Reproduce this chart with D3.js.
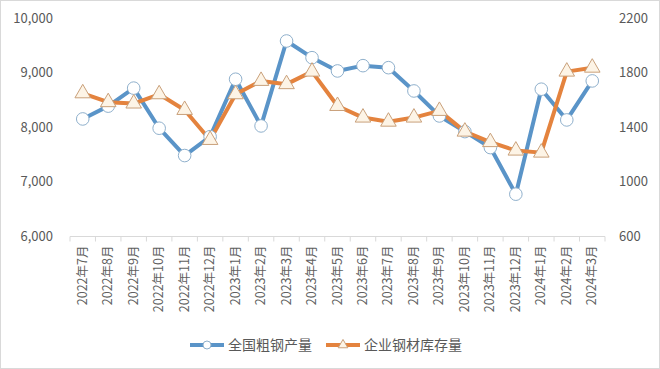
<!DOCTYPE html>
<html><head><meta charset="utf-8">
<script src="https://cdn.jsdelivr.net/npm/d3@7"></script>
<style>body{margin:0;background:#fff}svg{display:block}</style>
</head><body>
<svg id="c" width="660" height="369"></svg>
<script>
const categories = ["2022年7月","2022年8月","2022年9月","2022年10月","2022年11月","2022年12月","2023年1月","2023年2月","2023年3月","2023年4月","2023年5月","2023年6月","2023年7月","2023年8月","2023年9月","2023年10月","2023年11月","2023年12月","2024年1月","2024年2月","2024年3月"];
const steelOutput = [8155,8390,8720,7985,7484,7830,8883,8027,9584,9278,9035,9132,9095,8668,8210,7923,7630,6776,8700,8137,8852];
const inventory = [1650,1585,1575,1643,1528,1308,1643,1741,1717,1809,1557,1472,1442,1472,1521,1369,1292,1230,1215,1809,1838];
const leftTicks = [6000,7000,8000,9000,10000];
const rightTicks = [600,1000,1400,1800,2200];
const seriesNames = ["全国粗钢产量","企业钢材库存量"];

const svg = d3.select("#c");
const font = "'Noto Sans CJK SC','Noto Sans',sans-serif";
svg.append("rect").attr("x",0.5).attr("y",0.5).attr("width",659).attr("height",368)
  .attr("fill","#fff").attr("stroke","#d9d9d9");

const x = d3.scaleBand().domain(categories).range([70,605]);
const yL = d3.scaleLinear().domain([6000,10000]).range([236.5,18.3]);
const yR = d3.scaleLinear().domain([600,2200]).range([236.5,18.3]);
const cx = d => x(d) + x.bandwidth()/2;

// x axis
const gx = svg.append("g").attr("transform","translate(0,236.5)");
gx.append("line").attr("x1",70).attr("x2",605).attr("stroke","#d9d9d9").attr("stroke-width",1);
const bounds = categories.map(c=>x(c)).concat([605]);
gx.selectAll("line.t").data(bounds).enter().append("line").attr("class","t")
  .attr("x1",d=>d).attr("x2",d=>d).attr("y1",0).attr("y2",5).attr("stroke","#d9d9d9");
gx.selectAll("text").data(categories).enter().append("text")
  .attr("transform",d=>`translate(${cx(d)+4},9) rotate(-90)`)
  .attr("text-anchor","end").attr("font-family",font).attr("font-size",12.5)
  .attr("fill","#606060").text(d=>d);

// left axis labels
svg.append("g").selectAll("text").data(leftTicks).enter().append("text")
  .attr("x",53).attr("y",d=>yL(d)+4.5).attr("text-anchor","end")
  .attr("font-family",font).attr("font-size",13).attr("fill","#595959")
  .text(d=>d3.format(",")(d));
// right axis labels
svg.append("g").selectAll("text").data(rightTicks).enter().append("text")
  .attr("x",619).attr("y",d=>yR(d)+4.5).attr("text-anchor","start")
  .attr("font-family",font).attr("font-size",13).attr("fill","#595959")
  .text(d=>d);

const blue = "#5A94C8", orange = "#E4833E";
const lineB = d3.line().x((d,i)=>cx(categories[i])).y(d=>yL(d));
const lineO = d3.line().x((d,i)=>cx(categories[i])).y(d=>yR(d));

svg.append("path").datum(steelOutput).attr("d",lineB).attr("fill","none")
  .attr("stroke",blue).attr("stroke-width",4).attr("stroke-linejoin","round");
svg.append("path").datum(inventory).attr("d",lineO).attr("fill","none")
  .attr("stroke",orange).attr("stroke-width",4).attr("stroke-linejoin","round");

const tri = d3.symbol().type(d3.symbolTriangle).size(105);
svg.append("g").selectAll("circle").data(steelOutput).enter().append("circle")
  .attr("cx",(d,i)=>cx(categories[i])).attr("cy",d=>yL(d)).attr("r",6.3)
  .attr("fill","#fff").attr("stroke","#8fb0cc").attr("stroke-width",1);
svg.append("g").selectAll("path").data(inventory).enter().append("path")
  .attr("d",tri).attr("transform",(d,i)=>`translate(${cx(categories[i])},${yR(d)})`)
  .attr("fill","#fdf4e6").attr("stroke","#c9a07a").attr("stroke-width",1);

// legend
const lg = svg.append("g").attr("transform","translate(0,345)");
lg.append("line").attr("x1",190).attr("x2",224).attr("stroke",blue).attr("stroke-width",4);
lg.append("circle").attr("cx",207).attr("cy",0).attr("r",4).attr("fill","#fff").attr("stroke","#8fb0cc");
lg.append("text").attr("x",228).attr("y",5).attr("font-family",font).attr("font-size",14)
  .attr("fill","#595959").text(seriesNames[0]);
lg.append("line").attr("x1",326).attr("x2",360).attr("stroke",orange).attr("stroke-width",4);
lg.append("path").attr("d",d3.symbol().type(d3.symbolTriangle).size(40)).attr("transform","translate(343,0)")
  .attr("fill","#fdf4e6").attr("stroke","#c9a07a");
lg.append("text").attr("x",364).attr("y",5).attr("font-family",font).attr("font-size",14)
  .attr("fill","#595959").text(seriesNames[1]);
</script>
</body></html>
